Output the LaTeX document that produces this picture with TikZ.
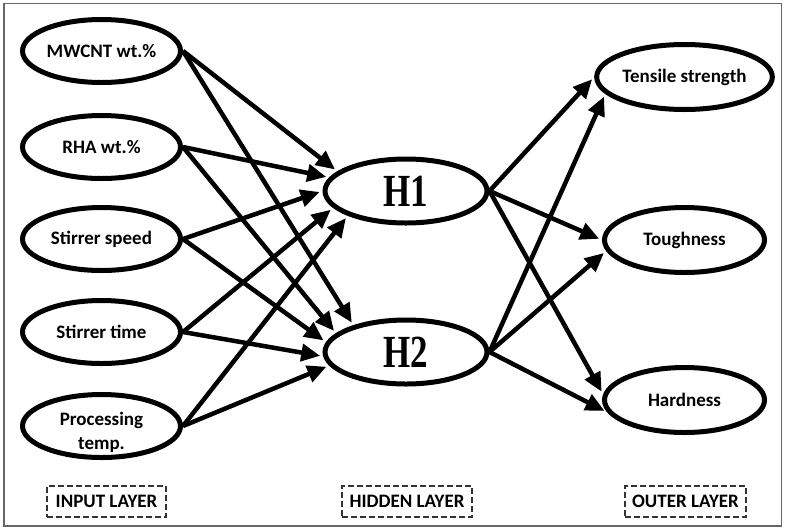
\documentclass[tikz,border=0pt]{standalone}
\usepackage{fontspec}
\setmainfont{Carlito}
\newfontfamily\hfont{Liberation Serif}
\usetikzlibrary{arrows.meta,shapes.geometric}
\begin{document}
\begin{tikzpicture}[x=1pt,y=-1pt,
  lbl/.style={font=\fontsize{19}{21}\selectfont\bfseries, align=center},
  inp/.style={ellipse, draw, line width=5pt, minimum width=158pt, minimum height=63pt, inner sep=0pt, lbl},
  hid/.style={ellipse, draw, line width=5pt, minimum width=162pt, minimum height=64pt, inner sep=0pt,
    font=\hfont\fontsize{46}{48}\selectfont\bfseries},
  outp/.style={ellipse, draw, line width=5pt, minimum width=160pt, minimum height=65pt, inner sep=0pt, lbl},
  layer/.style={draw, dashed, dash pattern=on 6pt off 3pt, line width=1.1pt, draw=black!80, minimum height=31pt, inner sep=0pt, lbl},
  arr/.style={line width=4.5pt, -{Triangle[length=19pt,width=17pt]}, shorten >=3pt},
]
\useasboundingbox (0,0) rectangle (786,531);
\draw[black!60, line width=1.3pt] (4,3.5) rectangle (781.5,526);

\node[inp] (i1) at (101.5,51) {MWCNT wt.\%};
\node[inp] (i2) at (101.5,147) {RHA wt.\%};
\node[inp] (i3) at (101.5,239) {Stirrer speed};
\node[inp] (i4) at (101.5,332) {Stirrer time};
\node[inp, label={[lbl, font=\fontsize{19}{24}\selectfont\bfseries, yshift=-6pt]center:Processing\\temp.}] (i5) at (101.5,426) {};

\node[hid] (h1) at (406,191) {\scalebox{0.76}[1]{H1}};
\node[hid] (h2) at (406,352) {\scalebox{0.76}[1]{H2}};

\node[outp] (o1) at (684.5,77) {Tensile strength};
\node[outp] (o2) at (684.5,240) {Toughness};
\node[outp] (o3) at (684.5,400) {Hardness};

\node[layer, minimum width=119pt] (l1) at (106.5,501.5) {INPUT LAYER};
\node[layer, minimum width=130pt] (l2) at (407,501.5) {HIDDEN LAYER};
\node[layer, minimum width=121pt] (l3) at (685.5,501.5) {OUTER LAYER};

\draw[arr] (i1.east) -- (h1.164);
\draw[arr] (i2.east) -- (h1.170.5);
\draw[arr] (i3.east) -- (h1.180.7);
\draw[arr] (i4.east) -- (h1.193.2);
\draw[arr] (i5.east) -- (h1.203.5);

\draw[arr] (i1.east) -- (h2.153.8);
\draw[arr] (i2.east) -- (h2.165.3);
\draw[arr] (i3.east) -- (h2.173.2);
\draw[arr] (i4.east) -- (h2.183.9);
\draw[arr] (i5.east) -- (h2.190.8);

\draw[arr] (h1.east) -- (o1.180.7);
\draw[arr] (h1.east) -- (o2.180);
\draw[arr] (h1.east) -- (o3.176.6);
\draw[arr] (h2.east) -- (o1.192.8);
\draw[arr] (h2.east) -- (o2.188.3);
\draw[arr] (h2.east) -- (o3.189.9);
\end{tikzpicture}
\end{document}
